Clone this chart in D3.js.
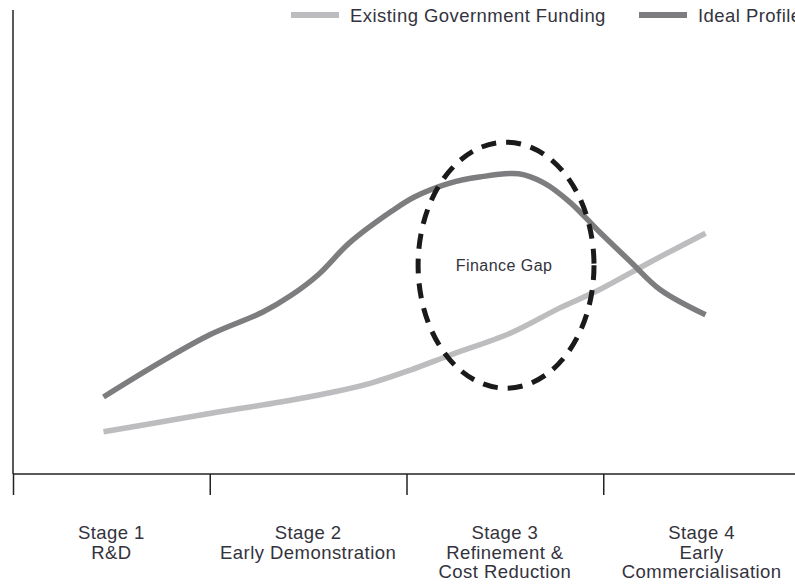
<!DOCTYPE html>
<html>
<head>
<meta charset="utf-8">
<script src="https://cdn.jsdelivr.net/npm/d3@7"></script>
<style>
  body { margin: 0; background: #fff; }
  text { font-family: "Liberation Sans", Arial, sans-serif; fill: #33333d; letter-spacing: 0.45px; }
</style>
</head>
<body>
<svg id="chart"></svg>
<script>
// stage boundaries (x axis ticks) and labels
var stageTicks = [0, 1, 2, 3];
var stageLabels = [
  ["Stage 1", "R&D"],
  ["Stage 2", "Early Demonstration"],
  ["Stage 3", "Refinement &", "Cost Reduction"],
  ["Stage 4", "Early", "Commercialisation"]
];

// position along the stages (0-4) and relative level (0-100)
var idealX = [0.46, 0.75, 1.00, 1.27, 1.41, 1.55, 1.71, 1.92, 2.04, 2.22, 2.37, 2.57, 2.70, 2.83, 2.98, 3.14, 3.29, 3.52];
var idealY = [16.6, 24.1, 30.0, 34.9, 38.4, 42.9, 49.8, 56.5, 59.7, 62.7, 64.0, 64.7, 62.7, 58.6, 52.2, 45.7, 39.7, 34.3];

var existingX = [0.46, 0.75, 1.05, 1.36, 1.61, 1.82, 2.02, 2.22, 2.53, 2.78, 2.98, 3.24, 3.52];
var existingY = [9.1, 11.2, 13.4, 15.5, 17.5, 19.6, 22.4, 25.6, 30.4, 35.8, 39.7, 45.7, 51.9];

// finance gap ellipse: centre and radii in data units
var gapCentre = [2.506, 45.0];
var gapRadius = [0.447, 26.5];

var seriesNames = ["Existing Government Funding", "Ideal Profile"];
var seriesColors = ["#bdbdc0", "#7d7d7f"];

var width = 795, height = 586;
var svg = d3.select('#chart').attr('width', width).attr('height', height);

var x = d3.scaleLinear().domain([0, 4]).range([13, 800]);
var y = d3.scaleLinear().domain([0, 100]).range([474, 10]);

// axes
svg.append('line')
  .attr('x1', x(0)).attr('x2', x(0))
  .attr('y1', y(100)).attr('y2', y(0))
  .attr('stroke', '#222').attr('stroke-width', 1.5);

var xAxis = d3.axisBottom(x).tickValues(stageTicks).tickSize(21).tickFormat('');
var gx = svg.append('g').attr('transform', 'translate(0,' + y(0) + ')').call(xAxis);
gx.select('.domain').attr('stroke', '#222').attr('stroke-width', 1.5).attr('d', 'M' + x(0) + ',0H' + width);
gx.selectAll('.tick line').attr('stroke', '#222').attr('stroke-width', 1.5);

// stage labels
var labels = svg.append('g').selectAll('text')
  .data(stageLabels).enter()
  .append('text')
  .attr('text-anchor', 'middle')
  .attr('font-size', 18.5)
  .attr('x', function(d, i) { return x(i + 0.5); })
  .attr('y', 539);
labels.selectAll('tspan')
  .data(function(d) { return d; }).enter()
  .append('tspan')
  .attr('x', function() { return d3.select(this.parentNode).attr('x'); })
  .attr('dy', function(d, i) { return i === 0 ? 0 : 19.5; })
  .text(function(d) { return d; });

// lines
var line = d3.line()
  .x(function(d) { return x(d[0]); })
  .y(function(d) { return y(d[1]); })
  .curve(d3.curveCatmullRom.alpha(0.5));

svg.append('path')
  .datum(d3.zip(existingX, existingY))
  .attr('d', line)
  .attr('fill', 'none')
  .attr('stroke', seriesColors[0])
  .attr('stroke-width', 5.5);

svg.append('path')
  .datum(d3.zip(idealX, idealY))
  .attr('d', line)
  .attr('fill', 'none')
  .attr('stroke', seriesColors[1])
  .attr('stroke-width', 5.5);

// finance gap
svg.append('ellipse')
  .attr('cx', x(gapCentre[0]))
  .attr('cy', y(gapCentre[1]))
  .attr('rx', x(gapCentre[0] + gapRadius[0]) - x(gapCentre[0]))
  .attr('ry', y(gapCentre[1] - gapRadius[1]) - y(gapCentre[1]))
  .attr('fill', 'none')
  .attr('stroke', '#1a1a1a')
  .attr('stroke-width', 5)
  .attr('stroke-dasharray', '15,10');

svg.append('text')
  .attr('x', x(gapCentre[0]) - 2)
  .attr('y', y(gapCentre[1]) + 6)
  .attr('text-anchor', 'middle')
  .attr('font-size', 16)
  .text('Finance Gap');

// legend
var legendX = [291, 639];
var legend = svg.append('g').selectAll('g')
  .data(seriesNames).enter()
  .append('g')
  .attr('transform', function(d, i) { return 'translate(' + legendX[i] + ',0)'; });
legend.append('rect')
  .attr('x', 0).attr('y', 12)
  .attr('width', 48).attr('height', 6)
  .attr('fill', function(d, i) { return seriesColors[i]; });
legend.append('text')
  .attr('x', 59).attr('y', 22)
  .attr('font-size', 18.5)
  .text(function(d) { return d; });
</script>
</body>
</html>
